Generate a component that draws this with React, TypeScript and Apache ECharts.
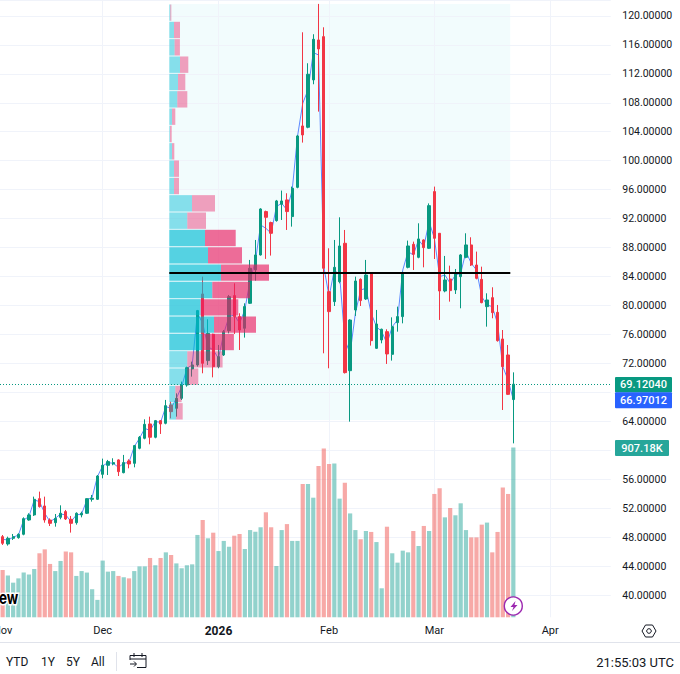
import React, { useEffect, useRef } from "react";
import * as echarts from "echarts";

const mk = (m: string, ds: number[]) => ds.map((d) => `${m}-${String(d).padStart(2, "0")}`);
const categories: string[] = [
  ...mk("2025-11", [3, 4, 5, 6, 7, 10, 11, 12, 13, 14, 17, 18, 19, 20, 21, 24, 25, 26, 28]),
  ...mk("2025-12", [1, 2, 3, 4, 5, 8, 9, 10, 11, 12, 15, 16, 17, 18, 19, 22, 23, 24, 26, 29, 30, 31]),
  ...mk("2026-01", [2, 5, 6, 7, 8, 9, 12, 13, 14, 15, 16, 19, 20, 21, 22, 23, 26, 27, 28, 29, 30]),
  ...mk("2026-02", [2, 3, 4, 5, 6, 9, 10, 11, 12, 13, 16, 17, 18, 19, 20, 23, 24, 25, 26, 27]),
  ...mk("2026-03", [2, 3, 4, 5, 6, 9, 10, 11, 12, 13, 16, 17, 18, 19, 20, 23, 24, 25, 26, 27, 30, 31]),
  ...mk("2026-04", [1, 2, 3, 6, 7, 8, 9, 10, 13, 14, 15, 16]),
];
const monthTicks: Record<string, string> = {
  "2025-11-03": "Nov",
  "2025-12-01": "Dec",
  "2026-01-02": "2026",
  "2026-02-02": "Feb",
  "2026-03-02": "Mar",
  "2026-04-01": "Apr",
};

const opens = [48.06,47.05,47.83,47.92,48.39,50.36,51.06,53.31,52.30,50.36,49.99,50.73,51.52,50.46,49.99,51.06,51.29,53.22,53.22,56.67,57.92,58.10,58.66,56.90,58.52,58.19,60.27,61.65,63.63,61.79,64.09,63.72,66.25,65.79,67.17,69.01,71.23,71.78,81.59,72.38,76.02,71.55,73.16,76.52,81.36,78.46,76.85,80.30,84.91,86.98,92.97,91.45,91.72,93.98,94.58,92.28,96.32,104.80,104.62,111.16,116.68,117.14,81.91,80.53,83.29,88.59,70.99,79.38,83.61,80.90,84.44,74.08,75.23,76.38,73.25,77.63,78.46,85.27,88.45,86.65,89.05,87.90,95.73,89.97,82.00,83.66,82.14,83.98,86.65,88.36,85.59,83.61,79.84,81.08,79.05,75.37,73.16,67.00];
const closes = [47.14,47.83,48.06,48.39,50.55,51.06,53.22,52.21,50.36,49.90,50.59,51.29,50.50,49.90,51.29,51.29,53.31,53.36,56.44,57.92,58.43,58.29,57.04,58.29,58.10,60.64,61.79,63.58,61.79,64.09,63.63,66.16,65.33,67.17,69.01,71.41,71.78,79.29,72.01,76.15,71.55,72.93,76.38,81.22,78.46,76.61,79.84,85.14,86.98,93.33,92.18,89.97,94.44,94.44,92.97,96.19,103.42,103.56,111.94,116.77,115.44,85.14,79.15,85.27,88.22,70.72,77.99,83.38,80.67,84.21,75.14,77.44,76.71,73.30,77.07,78.46,84.54,88.22,87.07,89.19,87.99,93.79,89.28,82.00,83.52,82.05,84.44,86.98,88.36,85.59,83.75,80.39,80.76,79.01,75.14,71.55,67.72,69.12];
const lows = [46.91,46.82,47.60,47.78,48.25,50.27,50.92,52.07,49.99,49.53,49.44,50.46,50.36,48.62,49.72,50.73,51.19,52.90,53.13,56.12,56.58,57.92,56.44,56.81,57.50,57.64,60.13,61.51,60.82,61.65,62.25,63.58,64.41,64.64,66.94,68.78,70.17,71.55,70.63,71.78,70.07,71.32,73.02,76.15,76.06,73.85,75.56,80.21,83.43,86.89,86.43,86.89,91.58,91.81,90.43,90.89,96.19,102.50,104.48,110.56,106.78,73.39,71.32,79.93,83.06,70.60,63.95,78.55,79.93,80.76,74.45,73.99,74.77,71.92,72.38,76.38,77.53,85.13,84.90,86.52,85.27,87.81,86.42,78.00,81.82,80.53,81.59,79.61,86.52,85.46,83.61,80.30,77.07,78.23,75.00,65.56,67.63,60.95];
const highs = [48.29,48.06,48.43,48.52,50.73,51.29,53.59,54.28,53.59,50.59,51.19,52.39,51.75,50.92,51.42,51.52,53.36,53.82,56.58,58.84,58.66,58.89,58.75,59.35,58.75,60.73,61.97,64.27,64.64,64.18,64.18,66.95,66.71,67.86,69.48,71.55,72.24,79.38,83.98,78.09,76.10,74.54,76.61,81.45,83.06,78.92,80.30,86.29,89.05,93.43,93.10,91.58,94.58,95.87,95.50,96.42,103.56,117.74,113.46,117.47,121.66,118.43,87.90,89.05,92.18,90.43,78.10,83.98,83.75,86.29,84.60,79.38,76.80,76.71,78.36,79.84,84.67,88.96,88.82,91.35,89.14,94.10,96.42,90.00,86.84,85.50,85.04,87.10,89.97,89.42,87.44,85.36,81.68,82.51,80.07,76.61,74.54,70.76];
const linePrices = [47.69,47.60,47.97,48.29,50.36,50.83,53.13,52.90,51.29,50.13,50.59,51.19,51.06,50.13,51.06,51.19,53.13,53.50,56.35,57.83,58.29,58.19,57.64,58.19,58.33,60.50,61.65,63.03,62.71,63.95,63.86,66.03,65.79,67.17,68.78,71.32,71.78,78.92,77.54,74.31,73.85,72.70,76.15,78.46,78.69,77.54,79.38,83.52,86.06,91.12,90.66,89.97,93.66,94.12,93.20,95.96,103.33,107.93,109.77,114.93,114.61,85.37,81.22,84.91,84.20,75.23,73.39,78.92,82.14,82.37,78.92,77.07,76.38,74.77,77.07,77.99,84.90,87.44,86.98,89.05,88.13,91.58,89.28,83.98,84.21,83.06,84.21,84.44,87.44,85.83,84.90,81.22,80.07,79.84,77.53,71.55,69.70,66.97];
const volumes = [253,223,185,208,239,228,258,342,363,285,247,301,352,347,221,247,239,150,93,303,244,247,221,214,208,247,272,272,317,278,317,347,333,288,262,278,283,440,520,422,452,354,408,377,436,445,365,466,457,481,561,481,274,466,498,408,408,712,712,639,808,902,819,822,634,719,555,466,417,461,456,402,155,484,342,292,356,347,461,381,488,461,659,689,534,584,545,609,466,427,427,495,506,347,456,694,659,907.18];

const profileRows = ["120.46","118.07","115.67","113.28","110.88","108.49","106.09","103.70","101.30","98.91","96.51","94.12","91.72","89.33","86.93","84.53","82.14","79.74","77.35","74.95","72.56","70.16","67.77","65.37"];
const profileUp = [1,4.7,5.3,10.7,8.7,8,2.7,0.7,2.7,4.7,4.7,22.7,18,35.7,38.7,51.7,43,31.3,44.7,33.3,18,18,6,6.7];
const profileDown = [1,6,5.3,8.3,7.3,10,3.3,1.7,2.3,5,5,23,18.7,30.7,34,48,37.7,37.7,42,31.3,35.3,11,6.3,6.7];
const valueAreaRows = ["89.33","86.93","84.53","82.14","79.74","77.35","74.95"];
const pocRow = "84.53";
const lastPrice = 69.12;
const lastPriceText = "69.12040";
const lineText = "66.97012";
const volumeText = "907.18K";
const rangeLabels = ["YTD", "1Y", "5Y", "All"];
const clockText = "21:55:03 UTC";

const GREEN = "#089981";
const RED = "#f23645";
const GRID = "#f0f3fa";
const INK = "#131722";
const FONT = "Roboto";

echarts.graphic.registerShape("calendarIcon", echarts.graphic.extendPath("M1 8V3.5H17V15.5H8M1 7H17M5 1V5M13 1V5M1 12H7M5 9.5L7.5 12L5 14.5", {}));
echarts.graphic.registerShape("boltIcon", echarts.graphic.extendPath("M6 0L1 6H4L2.5 10L8 4H5Z", {}));

const tag = (x: number, y: number, w: number, h: number, fill: string, text: string) => [
  { type: "rect", z: 50, shape: { x, y, width: w, height: h, r: 1 }, style: { fill } },
  { type: "text", z: 51, x: x + w / 2, y: y + h / 2, style: { text, fill: "#fff", font: `500 11px ${FONT}`, align: "center", verticalAlign: "middle" } },
];

export default function App() {
  const ref = useRef<HTMLDivElement>(null);
  useEffect(() => {
    const chart = echarts.init(ref.current!, undefined, { renderer: "svg" });
    const n = categories.length;
    const gridMonths = Object.keys(monthTicks).slice(1);
    const vLines = gridMonths.map((d) => ({ xAxis: d }));
    const gridW = n * 5.265;
    chart.setOption({
      animation: false,
      backgroundColor: "#fff",
      textStyle: { fontFamily: FONT },
      grid: [
        { left: 0, top: 0, width: gridW, height: 595, outerBoundsMode: "none" },
        { left: 0, top: 447.5, width: gridW, height: 169.8, outerBoundsMode: "none" },
        { left: 169.3, top: 4, width: 341, height: 416, show: true, borderWidth: 0, backgroundColor: "rgba(0,188,212,0.05)", outerBoundsMode: "none" },
      ],
      xAxis: [
        { type: "category", gridIndex: 0, data: categories, axisLine: { show: false }, axisTick: { show: false }, axisLabel: { show: false }, splitLine: { show: false } },
        {
          type: "category", gridIndex: 1, data: categories, axisLine: { show: false }, axisTick: { show: false }, splitLine: { show: false },
          axisLabel: {
            interval: (_: number, v: string) => v in monthTicks,
            formatter: (v: string) => (monthTicks[v] === "2026" ? "{b|2026}" : monthTicks[v] ?? ""),
            color: INK, fontSize: 11, fontFamily: FONT, margin: 8, hideOverlap: false,
            rich: { b: { fontWeight: 700, fontSize: 12, color: INK, fontFamily: FONT } },
          },
        },
        { type: "value", gridIndex: 2, min: 0, max: 341, show: false },
      ],
      yAxis: [
        {
          type: "value", gridIndex: 0, position: "right", min: 40, max: 122.2, interval: 4,
          axisLine: { show: false }, axisTick: { show: false },
          splitLine: { show: true, lineStyle: { color: GRID, width: 1 } },
          axisLabel: {
            color: INK, fontSize: 10.5, fontFamily: FONT, margin: 11.5, padding: [2, 0, 0, 0],
            formatter: (v: number) => (v === 122.2 || v === 68 || v === 60 ? "" : v.toFixed(5)),
          },
        },
        { type: "value", gridIndex: 1, min: 0, max: 907.18, show: false },
        { type: "category", gridIndex: 2, inverse: true, data: profileRows, show: false },
      ],
      series: [
        {
          type: "bar", name: "Volume", xAxisIndex: 1, yAxisIndex: 1, z: 2, barWidth: 4.2,
          data: volumes.map((v, i) => ({ value: v, itemStyle: { color: closes[i] >= opens[i] ? "rgba(38,166,154,0.5)" : "rgba(239,83,80,0.5)" } })),
          markLine: { silent: true, symbol: "none", z: 1, label: { show: false }, lineStyle: { color: GRID, width: 1, type: "solid" }, data: vLines },
        },
        {
          type: "line", name: "Line", xAxisIndex: 0, yAxisIndex: 0, z: 3, symbol: "none",
          lineStyle: { color: "#2962ff", width: 1, opacity: 0.75 }, data: linePrices,
          markLine: { silent: true, symbol: "none", z: 1, label: { show: false }, lineStyle: { color: GRID, width: 1, type: "solid" }, data: vLines },
        },
        {
          type: "candlestick", name: "Price", xAxisIndex: 0, yAxisIndex: 0, z: 4, barWidth: 2.8,
          itemStyle: { color: GREEN, color0: RED, borderColor: GREEN, borderColor0: RED, borderWidth: 1 },
          data: opens.map((o, i) => [o, closes[i], lows[i], highs[i]]),
          markLine: { silent: true, symbol: "none", z: 7, label: { show: false }, lineStyle: { color: GREEN, width: 1, type: [1, 2] }, data: [{ yAxis: lastPrice }] },
        },
        {
          type: "bar", name: "Up", xAxisIndex: 2, yAxisIndex: 2, stack: "vp", z: 5, barWidth: 16.4,
          data: profileUp.map((v, i) => ({ value: v, itemStyle: { color: valueAreaRows.includes(profileRows[i]) ? "rgba(0,188,212,0.65)" : "rgba(0,188,212,0.45)" } })),
        },
        {
          type: "bar", name: "Down", xAxisIndex: 2, yAxisIndex: 2, stack: "vp", z: 5, barWidth: 16.4,
          data: profileDown.map((v, i) => ({ value: v, itemStyle: { color: valueAreaRows.includes(profileRows[i]) ? "rgba(233,30,99,0.65)" : "rgba(233,30,99,0.42)" } })),
          markLine: {
            silent: true, symbol: "none", z: 8, label: { show: false }, lineStyle: { color: "#000", width: 2, type: "solid" },
            data: [[{ xAxis: 0, yAxis: pocRow }, { xAxis: 341, yAxis: pocRow }]],
          },
        },
      ],
      graphic: [
        ...tag(615, 377, 57, 15.5, GREEN, lastPriceText),
        ...tag(615, 392.3, 57, 16, "#2962ff", lineText),
        ...tag(615, 440, 54, 16, "#26a69a", volumeText),
        { type: "text", z: 40, x: -1, y: 598, scaleX: 0.75, style: { text: "ew", fill: "#000", font: `700 18px Inter`, stroke: "#fff", lineWidth: 3, verticalAlign: "middle" } },
        { type: "circle", z: 45, shape: { cx: 513.3, cy: 606, r: 9 }, style: { fill: "#fff", stroke: "#9c27b0", lineWidth: 1.4 } },
        { type: "boltIcon", z: 46, x: 509.5, y: 601, style: { fill: "#9c27b0", stroke: "none" } },
        { type: "line", z: 30, shape: { x1: 0, y1: 642.5, x2: 680, y2: 642.5 }, style: { stroke: "#e0e3eb", lineWidth: 1 } },
        { type: "line", z: 30, shape: { x1: 116.5, y1: 652, x2: 116.5, y2: 671 }, style: { stroke: "#e0e3eb", lineWidth: 1 } },
        { type: "polygon", z: 30, shape: { points: [[642, 631], [645.5, 625], [652.5, 625], [656, 631], [652.5, 637], [645.5, 637]] }, style: { fill: "none", stroke: INK, lineWidth: 1 } },
        { type: "circle", z: 30, shape: { cx: 649, cy: 631, r: 2.3 }, style: { fill: "none", stroke: INK, lineWidth: 1 } },
        { type: "calendarIcon", z: 30, x: 129, y: 652, style: { fill: "none", stroke: INK, lineWidth: 1 } },
        ...rangeLabels.map((t, i) => ({ type: "text", z: 30, x: [6, 41, 66, 91][i], y: 662, style: { text: t, fill: INK, font: `12px ${FONT}`, verticalAlign: "middle" } })),
        { type: "text", z: 30, x: 674, y: 662, style: { text: clockText, fill: INK, font: `13px ${FONT}`, align: "right", verticalAlign: "middle" } },
      ],
    });
    return () => chart.dispose();
  }, []);
  return <div ref={ref} style={{ position: "absolute", left: 0, top: 0, width: 680, height: 674 }} />;
}
